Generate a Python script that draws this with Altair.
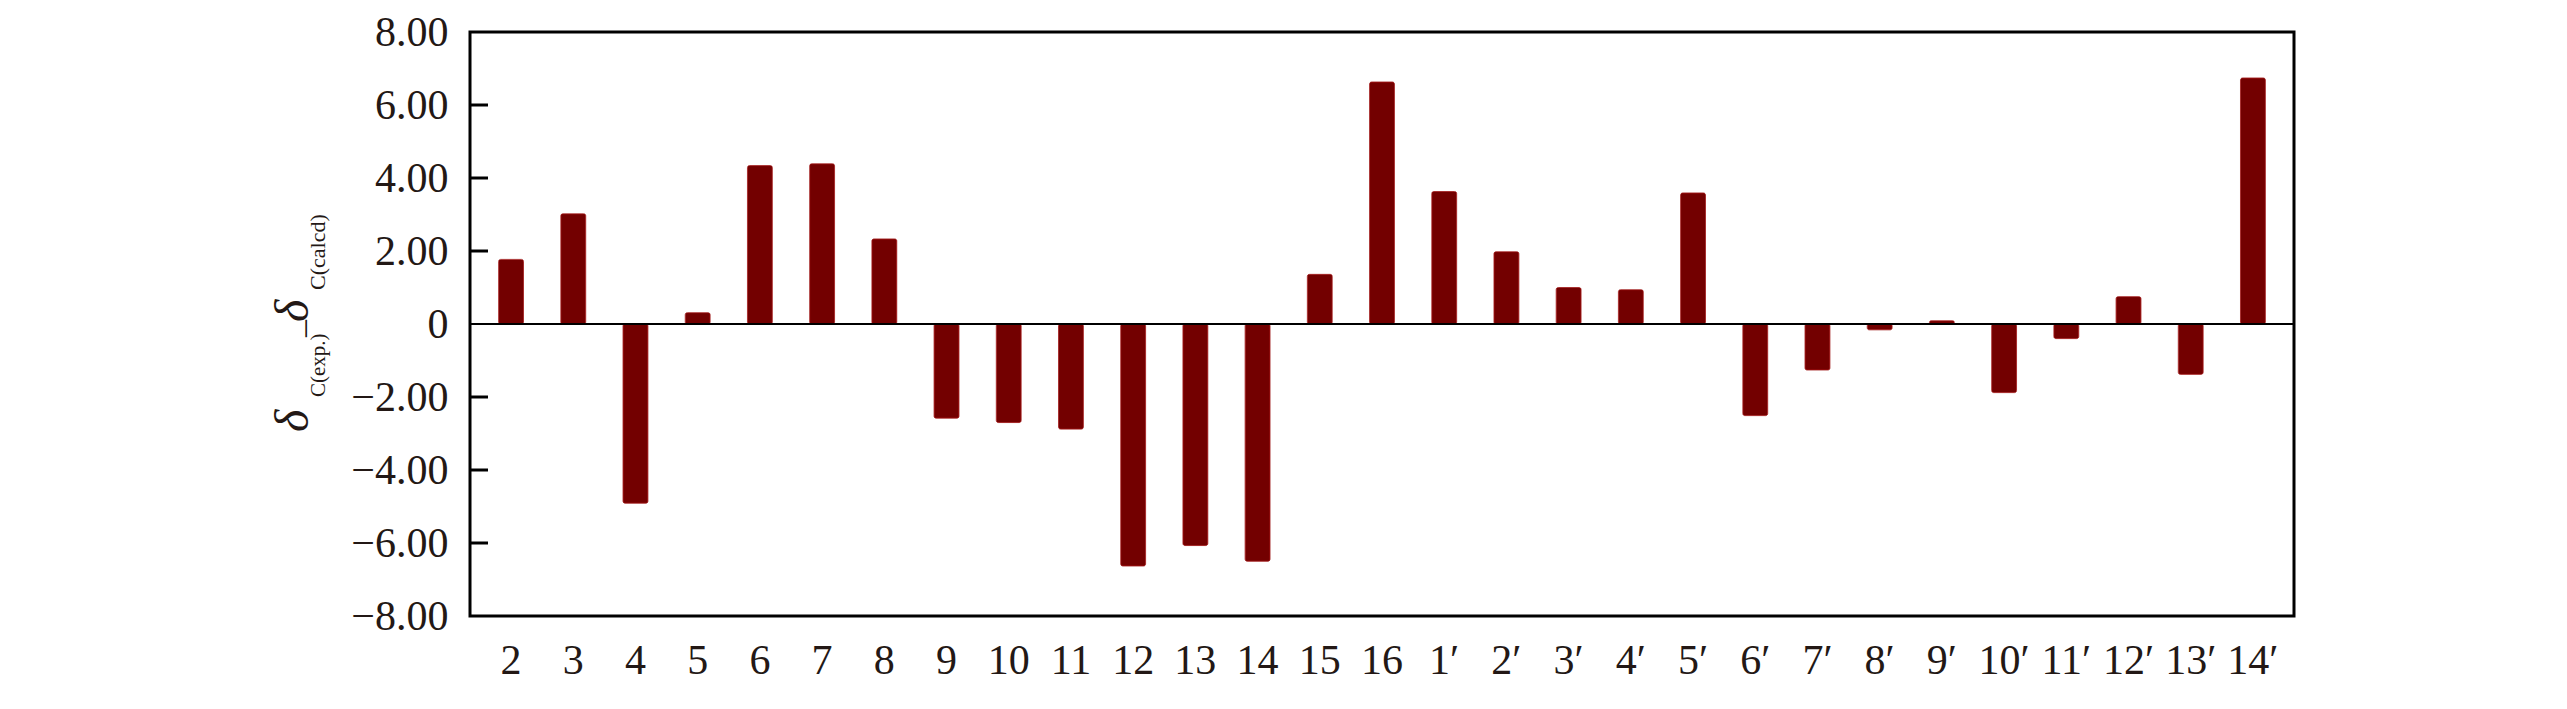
import altair as alt
import pandas as pd

# Categories (carbon positions) and deviation values
categories = ["2", "3", "4", "5", "6", "7", "8", "9", "10", "11", "12", "13", "14", "15", "16",
              "1′", "2′", "3′", "4′", "5′", "6′", "7′", "8′", "9′", "10′", "11′", "12′", "13′", "14′"]
values = [1.77, 3.02, -4.91, 0.31, 4.34, 4.39, 2.33, -2.58, -2.70, -2.88, -6.63, -6.07, -6.50, 1.36, 6.63,
          3.63, 1.98, 1.00, 0.94, 3.59, -2.51, -1.26, -0.16, 0.09, -1.88, -0.40, 0.75, -1.38, 6.74]
y_ticks = [-6, -4, -2, 2, 4, 6]
y_labels = [-8, -6, -4, -2, 0, 2, 4, 6, 8]

FONT = "Liberation Serif"
TXT = "#231815"
BAR = "#730000"

df = pd.DataFrame({"cat": categories, "val": values})

W, H = 1824, 584

xscale = alt.Scale(domain=categories, paddingInner=0.6, paddingOuter=0.46)
yscale = alt.Scale(domain=[-8, 8], nice=False, zero=False)

bars = alt.Chart(df).mark_bar(color=BAR, stroke="#9a1010", strokeWidth=0.8, cornerRadius=2).encode(
    x=alt.X("cat:N", sort=categories, scale=xscale,
            axis=alt.Axis(title=None, labelAngle=0, ticks=False, domain=False,
                          labelFont=FONT, labelFontSize=42, labelColor=TXT,
                          labelPadding=24)),
    y=alt.Y("val:Q", scale=yscale,
            axis=alt.Axis(title=None, values=y_labels, ticks=False, domain=False, grid=False,
                          labelFont=FONT, labelFontSize=42, labelColor=TXT, labelPadding=22,
                          labelExpr="datum.value == 0 ? '0' : (datum.value < 0 ? '−' : '') + format(abs(datum.value), '.2f')")),
)

zero = alt.Chart(pd.DataFrame({"z": [0]})).mark_rule(color="black", strokeWidth=2).encode(
    y=alt.Y("z:Q", scale=yscale)
)

ticks = alt.Chart(pd.DataFrame({"t": y_ticks})).mark_rule(color="black", strokeWidth=3).encode(
    y=alt.Y("t:Q", scale=yscale), x=alt.value(0), x2=alt.value(18)
)

def piece(text, x, y, size, italic=False):
    return alt.Chart(pd.DataFrame({"s": [text]})).mark_text(
        font=FONT, fontSize=size, fontStyle="italic" if italic else "normal",
        angle=270, align="left", baseline="alphabetic", color=TXT
    ).encode(text="s:N", x=alt.value(x), y=alt.value(y))

title_parts = [
    piece("δ", -162, 400, 48, True),
    piece("C(exp.)", -145, 365, 21),
    piece("–", -156, 305, 34),
    piece("δ", -162, 290, 48, True),
    piece("C(calcd)", -145, 258, 22),
]

chart = alt.layer(bars, zero, ticks, *title_parts).properties(
    width=W, height=H,
    background="white",
    autosize=alt.AutoSizeParams(type="none"),
    padding={"left": 462, "top": 24, "right": 250, "bottom": 80},
).configure_view(stroke="black", strokeWidth=3)

chart.save("out.html", embed_options={"renderer": "svg", "actions": False})
